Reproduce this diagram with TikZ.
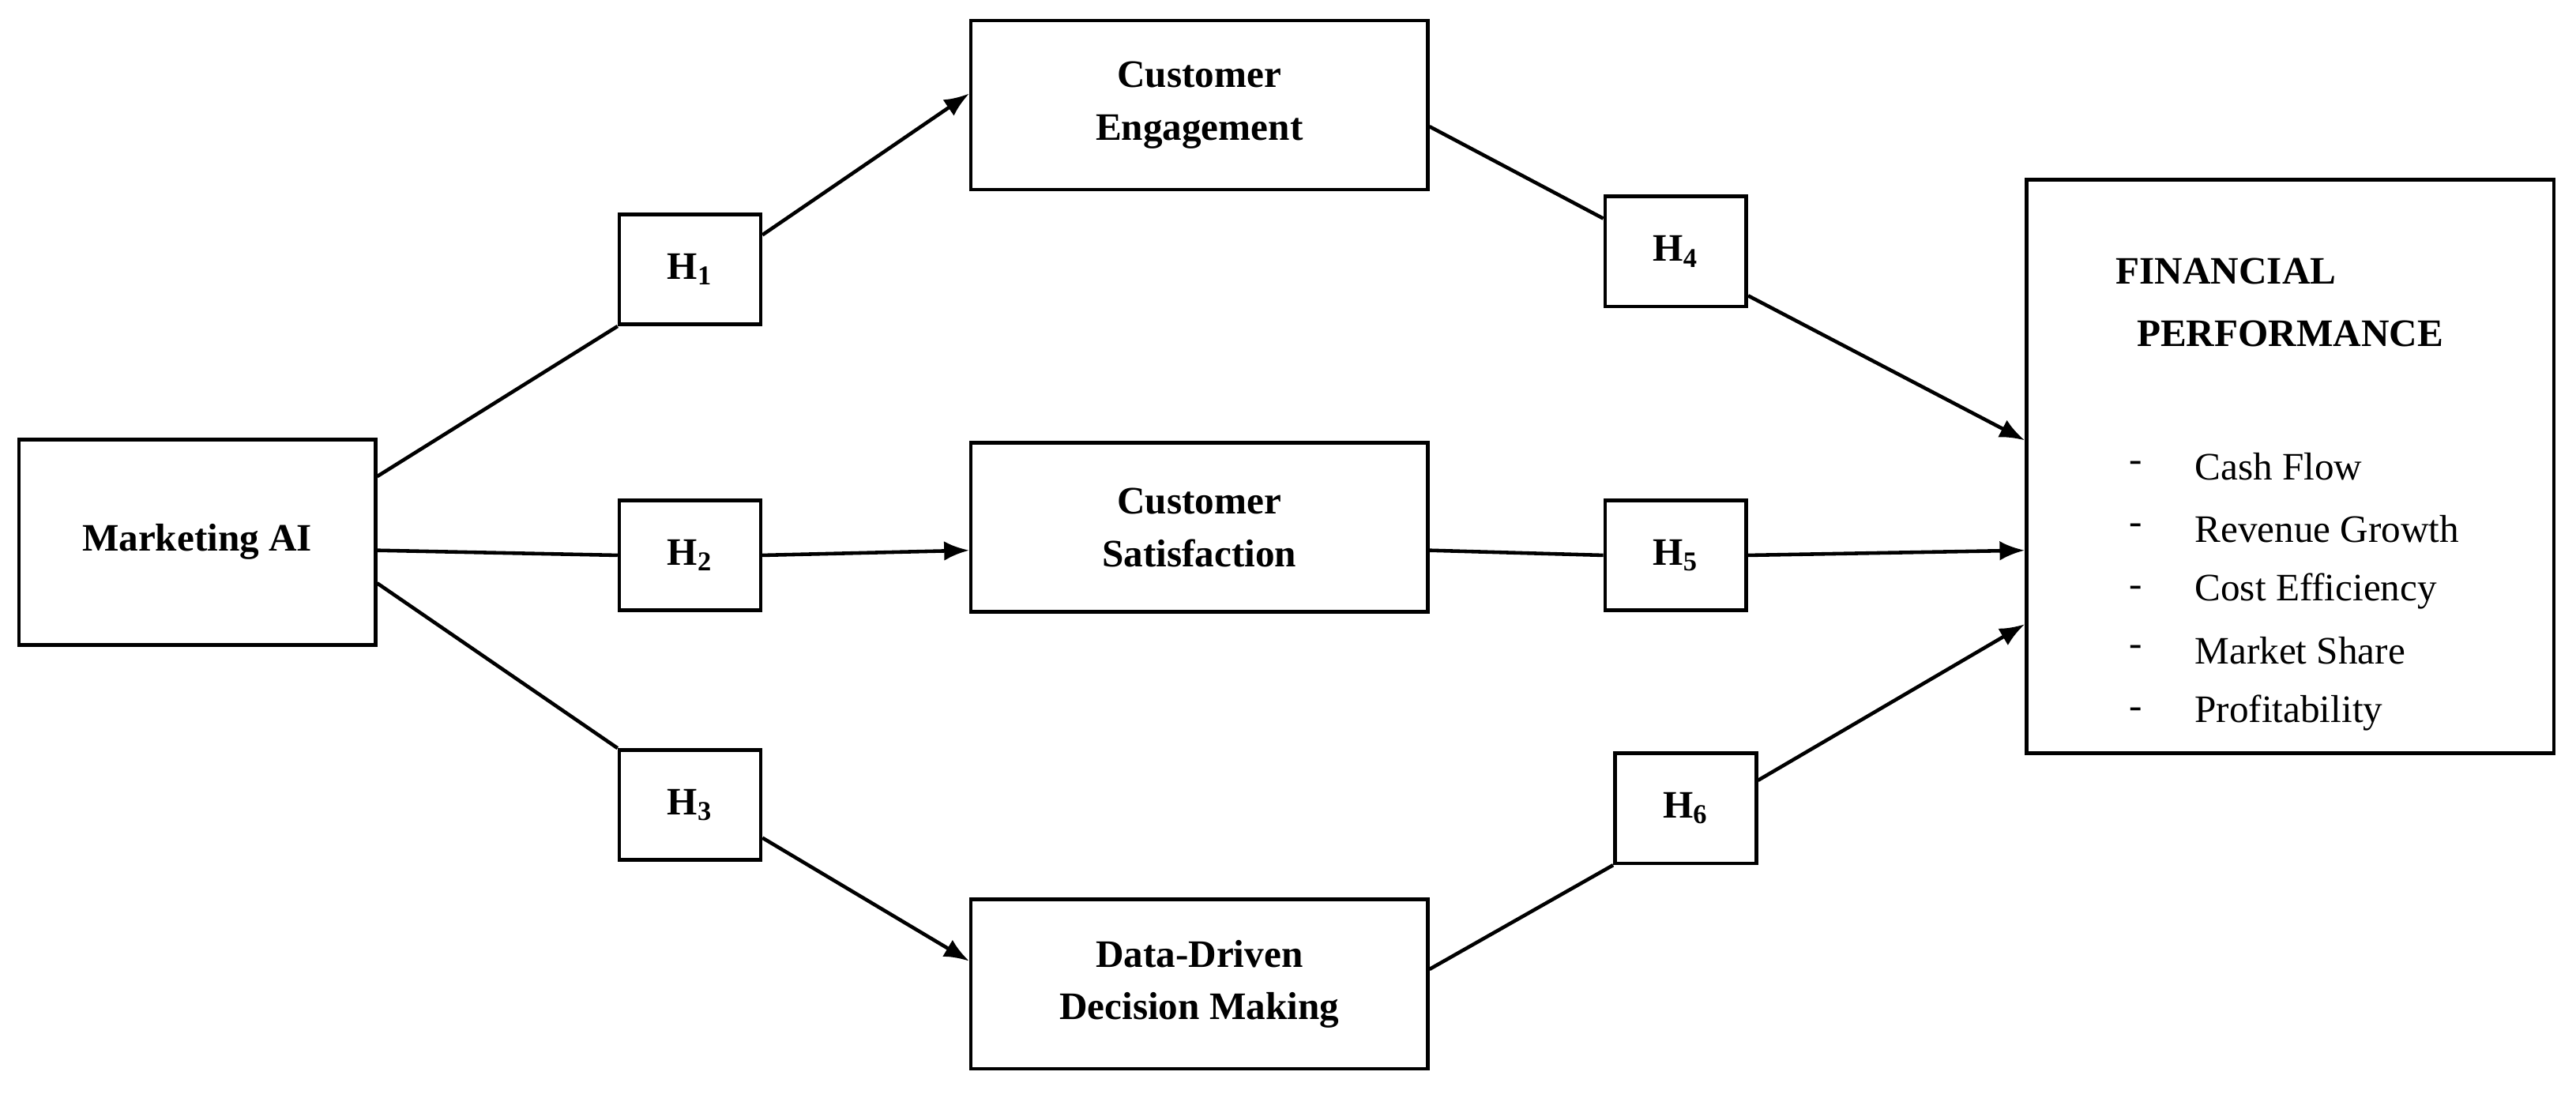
\documentclass[tikz,border=0pt]{standalone}
\usepackage{fontspec}
\setmainfont{Liberation Serif}
\usetikzlibrary{arrows.meta}

\tikzset{
    box/.style={draw, line width=1.3pt, align=center, font=\fontsize{14}{19}\selectfont\bfseries},
    hyp/.style={draw, line width=1.3pt, minimum width=86, minimum height=67, font=\fontsize{14}{17}\selectfont\bfseries},
    link/.style={line width=1.3pt},
    arr/.style={line width=1.3pt, -{Latex[length=9pt,width=7pt]}}
}

\begin{document}
\begin{tikzpicture}[x=0.208mm, y=-0.208mm]
    \useasboundingbox (0,0) rectangle (1568,668);

    % constructs
    \node[box, minimum width=217*0.208mm, minimum height=125*0.208mm] (mai) at (120,330) {Marketing AI};
    \node[box, minimum width=278*0.208mm, minimum height=103*0.208mm] (eng) at (730,64) {Customer\\Engagement};
    \node[box, minimum width=278*0.208mm, minimum height=103*0.208mm] (sat) at (730,321) {Customer\\Satisfaction};
    \node[box, minimum width=278*0.208mm, minimum height=103*0.208mm] (ddd) at (730,599) {Data-Driven\\Decision Making};
    \node[box, minimum width=321*0.208mm, minimum height=349*0.208mm] (fin) at (1394,284) {};

    % outcome text
    \node[font=\fontsize{14}{17}\selectfont\bfseries] (fint) at (1355,165) {FINANCIAL};
    \node[font=\fontsize{14}{17}\selectfont\bfseries] (finp) at (1394,203) {PERFORMANCE};
    \foreach \y/\t in {284/Cash Flow, 322/Revenue Growth, 360/Cost Efficiency, 396/Market Share, 434/Profitability} {
        \node[font=\fontsize{14}{17}\selectfont] at (1300,\y) {-};
        \node[anchor=west, font=\fontsize{14}{17}\selectfont] at (1330,\y) {\t};
    }

    % hypotheses
    \node[hyp, minimum width=86*0.208mm, minimum height=67*0.208mm] (h1) at (420,164) {H\textsubscript{1}};
    \node[hyp, minimum width=86*0.208mm, minimum height=67*0.208mm] (h2) at (420,338) {H\textsubscript{2}};
    \node[hyp, minimum width=86*0.208mm, minimum height=67*0.208mm] (h3) at (420,490) {H\textsubscript{3}};
    \node[hyp, minimum width=86*0.208mm, minimum height=67*0.208mm] (h4) at (1020,153) {H\textsubscript{4}};
    \node[hyp, minimum width=86*0.208mm, minimum height=67*0.208mm] (h5) at (1020,338) {H\textsubscript{5}};
    \node[hyp, minimum width=86*0.208mm, minimum height=67*0.208mm] (h6) at (1026,492) {H\textsubscript{6}};

    % paths
    \draw[link] ([shift={(0,-40)}]mai.east) -- (h1.south west);
    \draw[arr] ([shift={(0,-21)}]h1.east) -- ([shift={(0,-7)}]eng.west);
    \draw[link] ([shift={(0,5)}]mai.east) -- (h2.west);
    \draw[arr] (h2.east) -- ([shift={(0,14)}]sat.west);
    \draw[link] ([shift={(0,25)}]mai.east) -- (h3.north west);
    \draw[arr] ([shift={(0,20)}]h3.east) -- ([shift={(0,-14)}]ddd.west);

    \draw[link] ([shift={(0,13)}]eng.east) -- ([shift={(0,-20)}]h4.west);
    \draw[arr] ([shift={(0,27)}]h4.east) -- ([shift={(0,-16)}]fin.west);
    \draw[link] ([shift={(0,14)}]sat.east) -- (h5.west);
    \draw[arr] (h5.east) -- ([shift={(0,51)}]fin.west);
    \draw[link] ([shift={(0,-9)}]ddd.east) -- (h6.south west);
    \draw[arr] ([shift={(0,-17)}]h6.east) -- ([shift={(0,96)}]fin.west);
\end{tikzpicture}
\end{document}
